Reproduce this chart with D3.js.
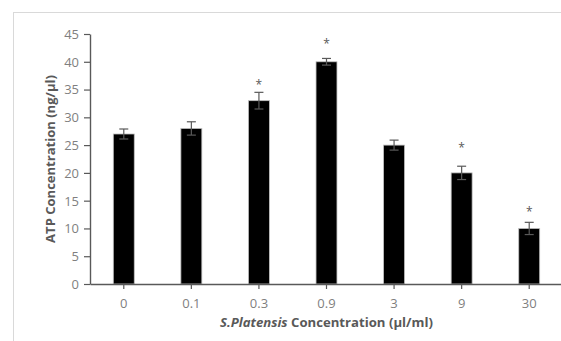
<!DOCTYPE html>
<html>
<head>
<meta charset="utf-8">
<script src="https://cdn.jsdelivr.net/npm/d3@7"></script>
<style>
  body { margin: 0; background: #fff; }
  svg { display: block; }
</style>
</head>
<body>
<div id="chart"></div>
<script>
const categories = ["0", "0.1", "0.3", "0.9", "3", "9", "30"];
const atpValues = [27, 28, 33, 40, 25, 20, 10];
const errValues = [0.9, 1.2, 1.5, 0.6, 0.9, 1.2, 1.1];
// height (in ng/µl) at which the significance asterisk sits, null = not significant
const starLevels = [null, null, 36.2, 43.6, null, 24.9, 13.4];
const yTicks = [0, 5, 10, 15, 20, 25, 30, 35, 40, 45];

const W = 561, H = 341;
const margin = { top: 34, right: -2, bottom: 57, left: 90 };
const width = W - margin.left - margin.right;
const height = H - margin.top - margin.bottom;
const font = "'Open Sans', 'Liberation Sans', sans-serif";
const grey = "#595959";

const root = d3.select("#chart").append("svg")
  .attr("width", W)
  .attr("height", H);

// chart area frame (Excel style)
root.append("rect")
  .attr("x", 13.5).attr("y", 12.5)
  .attr("width", W).attr("height", H)
  .attr("fill", "none")
  .attr("stroke", "#d9d9d9")
  .attr("stroke-width", 1);

const svg = root.append("g")
  .attr("transform", `translate(${margin.left},${margin.top})`);

const x = d3.scaleBand()
  .domain(categories)
  .range([0, width]);

const y = d3.scaleLinear()
  .domain([0, 45])
  .range([height, 0]);

const barW = x.bandwidth() * 0.31;
const cx = d => x(d) + x.bandwidth() / 2;

// bars
svg.selectAll(".bar")
  .data(categories)
  .enter().append("rect")
  .attr("class", "bar")
  .attr("x", d => cx(d) - barW / 2)
  .attr("y", (d, i) => y(atpValues[i]))
  .attr("width", barW)
  .attr("height", (d, i) => height - y(atpValues[i]))
  .attr("fill", "#000")
  .attr("stroke", "#bfbfbf")
  .attr("stroke-width", 0.8);

// error bars
const eb = svg.selectAll(".err")
  .data(categories)
  .enter().append("g")
  .attr("class", "err")
  .attr("stroke", "#595959")
  .attr("stroke-width", 1.2);

eb.append("line")
  .attr("x1", cx)
  .attr("x2", cx)
  .attr("y1", (d, i) => y(atpValues[i] + errValues[i]))
  .attr("y2", (d, i) => y(atpValues[i] - errValues[i]));

[1, -1].forEach(s => {
  eb.append("line")
    .attr("x1", d => cx(d) - 4.5)
    .attr("x2", d => cx(d) + 4.5)
    .attr("y1", (d, i) => y(atpValues[i] + s * errValues[i]))
    .attr("y2", (d, i) => y(atpValues[i] + s * errValues[i]));
});

// significance asterisks
svg.selectAll(".star")
  .data(categories.filter((d, i) => starLevels[i] !== null))
  .enter().append("text")
  .attr("class", "star")
  .attr("x", cx)
  .attr("y", d => y(starLevels[categories.indexOf(d)]) + 6)
  .attr("text-anchor", "middle")
  .style("font-family", font)
  .style("font-size", "12px")
  .attr("fill", grey)
  .text("*");

// axes
const xAxis = svg.append("g")
  .attr("transform", `translate(0,${height})`)
  .call(d3.axisBottom(x).tickSize(5).tickSizeOuter(0));

const yAxis = svg.append("g")
  .call(d3.axisLeft(y).tickValues(yTicks).tickSize(6).tickSizeOuter(0).tickPadding(5));

[xAxis, yAxis].forEach(a => {
  a.select(".domain").attr("stroke", grey).attr("stroke-width", 1.4);
  a.selectAll(".tick line").attr("stroke", grey).attr("stroke-width", 1.2);
  a.selectAll(".tick text")
    .attr("fill", "#7f7f7f")
    .style("font-family", font)
    .style("font-size", "13px");
});
xAxis.selectAll(".tick text").attr("dy", "1.2em");
yAxis.selectAll(".tick text").attr("dy", "0.34em");

// scale a title's font so it spans the same length as in the source
function fitText(sel, target) {
  const len = sel.node().getComputedTextLength();
  const fs = parseFloat(sel.style("font-size"));
  sel.style("font-size", (fs * target / len).toFixed(2) + "px");
}

// x axis title
const xt = svg.append("text")
  .attr("x", width / 2)
  .attr("y", height + 43)
  .attr("text-anchor", "middle")
  .attr("fill", grey)
  .style("font-family", font)
  .style("font-size", "12px")
  .style("font-weight", "bold");
xt.append("tspan").style("font-style", "italic").text("S.Platensis");
xt.append("tspan").text(" Concentration (µl/ml)");
fitText(xt, 213);

// y axis title
const yt = svg.append("text")
  .attr("transform", "rotate(-90)")
  .attr("x", -height / 2)
  .attr("y", -35)
  .attr("text-anchor", "middle")
  .attr("fill", grey)
  .style("font-family", font)
  .style("font-size", "12px")
  .style("font-weight", "bold")
  .text("ATP Concentration (ng/µl)");
fitText(yt, 168);
</script>
</body>
</html>
